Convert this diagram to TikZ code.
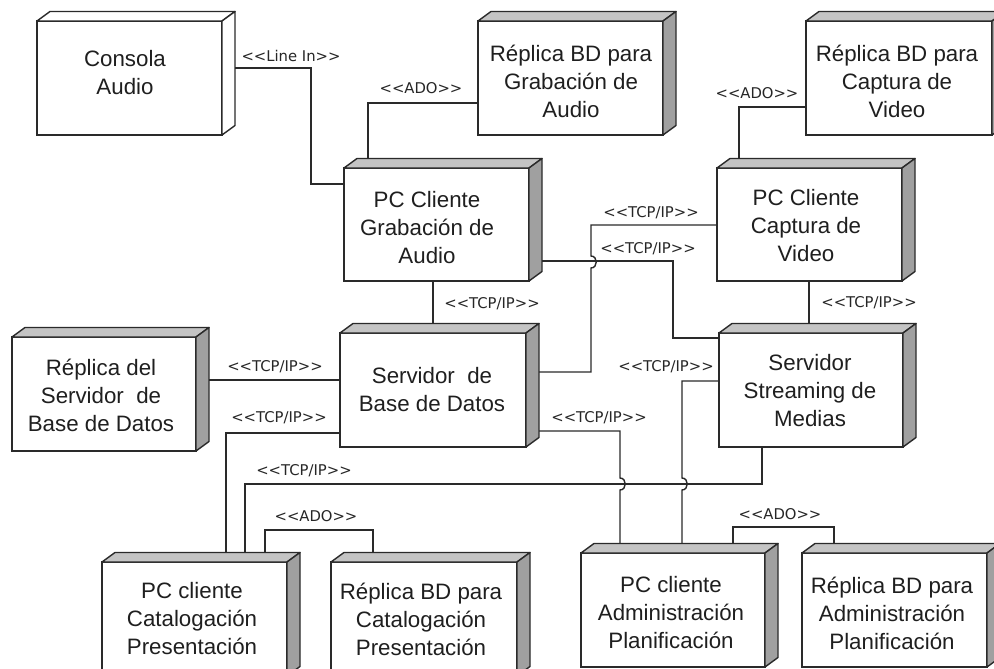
\documentclass[tikz,border=0pt]{standalone}
\usepackage{fontspec}
\setmainfont{Liberation Sans}
\newfontfamily\lblfont{DejaVu Sans}
\usetikzlibrary{calc}

\definecolor{topgray}{HTML}{C4C4C4}
\definecolor{sidegray}{HTML}{A0A0A0}
\definecolor{ink}{HTML}{2A2A2A}

% stereotype text such as <<TCP/IP>>
\newcommand{\stereo}[1]{<\kern0pt<#1>\kern0pt>}

\tikzset{
  front/.style={draw=ink, line width=1.4pt, fill=white, inner sep=0pt, outer sep=0pt},
  greytop/.style={draw=ink, line width=1.4pt, fill=topgray, line join=round},
  greyside/.style={draw=ink, line width=1.4pt, fill=sidegray, line join=round},
  plainface/.style={draw=ink, line width=1.4pt, fill=white, line join=round},
  devtext/.style={align=center, font=\fontsize{22.3}{28}\selectfont, text=black!88, inner sep=0pt},
  conn/.style={draw=ink, line width=1.4pt},
  stlabel/.style={font=\lblfont\fontsize{14.8}{16}\selectfont, text=black!85, inner sep=0pt},
}

% UML device node: name, x1, y1, x2, y2 (front face), top style, side style
\newcommand{\devbox}[7]{%
  \node[front, minimum width={#4-#2}, minimum height={#5-#3}] (#1) at ({(#2+#4)/2},{(#3+#5)/2}) {};
  \path[#6] (#1.north west) -- ++(13,-9.5) -- ($(#1.north east)+(13,-9.5)$) -- (#1.north east) -- cycle;
  \path[#7] (#1.north east) -- ++(13,-9.5) -- ($(#1.south east)+(13,-9.5)$) -- (#1.south east) -- cycle;
  \coordinate (#1-bk) at ($(#1.east)+(13,0)$);
  \coordinate (#1-tp) at ($(#1.north)+(0,-9.5)$);
}

\begin{document}
\begin{tikzpicture}[x=1pt,y=-1pt]
\useasboundingbox (0,0) rectangle (994,669);
\clip (0,0) rectangle (994,669);
\fill[white] (0,0) rectangle (994,669);

% devices
\devbox{consola}{37}{21}{222}{135}{plainface}{plainface}
\devbox{repgrab}{478}{21}{663}{135}{greytop}{greyside}
\devbox{repvid}{806}{21}{992}{135}{greytop}{greyside}
\devbox{pcgrab}{344}{168}{529}{281}{greytop}{greyside}
\devbox{pcvid}{717}{168}{902}{281}{greytop}{greyside}
\devbox{srvbd}{340}{333}{526}{447}{greytop}{greyside}
\devbox{repsrv}{12}{337}{196}{451}{greytop}{greyside}
\devbox{stream}{719}{333}{903}{447}{greytop}{greyside}
\devbox{pccat}{102}{562}{287}{676}{greytop}{greyside}
\devbox{repcat}{331}{562}{517}{676}{greytop}{greyside}
\devbox{pcadm}{581}{553}{765}{667}{greytop}{greyside}
\devbox{repadm}{802}{553}{987}{667}{greytop}{greyside}

% device captions
\node[devtext] (consola-t) at (125,73) {Consola\\Audio};
\node[devtext] (repgrab-t) at (571,81) {Réplica BD para\\Grabación de\\Audio};
\node[devtext] (repvid-t) at (897,81) {Réplica BD para\\Captura de\\Video};
\node[devtext] (pcgrab-t) at (427,228) {PC Cliente\\Grabación de\\Audio};
\node[devtext] (pcvid-t) at (806,226) {PC Cliente\\Captura de\\Video};
\node[devtext] (srvbd-t) at (432,390) {Servidor\ \ de\\Base de Datos};
\node[devtext] (repsrv-t) at (101,395) {Réplica del\\Servidor\ \ de\\Base de Datos};
\node[devtext] (stream-t) at (810,391) {Servidor\\Streaming de\\Medias};
\node[devtext] (pccat-t) at (192,619) {PC cliente\\Catalogación\\Presentación};
\node[devtext] (repcat-t) at (421,619) {Réplica BD para\\Catalogación\\Presentación};
\node[devtext] (pcadm-t) at (671,613) {PC cliente\\Administración\\Planificación};
\node[devtext] (repadm-t) at (892,613) {Réplica BD para\\Administración\\Planificación};

% connections
\draw[conn] (consola-bk |- 0,68) -| (311,184) -- (pcgrab.west |- 0,184);
\draw[conn] (repgrab.west |- 0,103) -| (pcgrab-tp -| 368,0);
\draw[conn] (repvid.west |- 0,107) -| (pcvid-tp -| 739,0);
\draw[conn] (pcgrab.south -| 433,0) -- (srvbd-tp -| 433,0);
\draw[conn] (repsrv-bk |- 0,380) -- (srvbd.west |- 0,380);
\draw[conn] (srvbd.west |- 0,433) -| (pccat-tp -| 226,0);
\draw[conn] (srvbd-bk |- 0,372) -- (591,372) -- (591,268)
  .. controls (598,268) and (598,256) .. (591,256) -- (591,225) -- (pcvid.west |- 0,225);
\draw[conn] (pcgrab-bk |- 0,261) -| (673,338) -- (stream.west |- 0,338);
\draw[conn] (pcvid.south -| 809,0) -- (stream-tp -| 809,0);
\draw[conn] (srvbd-bk |- 0,431) -- (620,431) -- (620,478)
  .. controls (627,478) and (627,490) .. (620,490) -- (pcadm-tp -| 620,0);
\draw[conn] (stream.west |- 0,381) -- (682,381) -- (682,478)
  .. controls (689,478) and (689,490) .. (682,490) -- (pcadm-tp -| 682,0);
\draw[conn] (stream.south -| 762,0) |- (245,484) -- (pccat-tp -| 245,0);
\draw[conn] (pccat-tp -| 265,0) |- (373,530) -- (repcat-tp -| 373,0);
\draw[conn] (pcadm-tp -| 733,0) |- (834,527) -- (repadm-tp -| 834,0);

% stereotypes
\node[stlabel] (s1) at (291,56) {\stereo{Line In}};
\node[stlabel] (s2) at (421,88) {\stereo{ADO}};
\node[stlabel] (s3) at (757,93) {\stereo{ADO}};
\node[stlabel] (s4) at (492,304) {\stereo{TCP/IP}};
\node[stlabel] (s5) at (275,367) {\stereo{TCP/IP}};
\node[stlabel] (s6) at (279,418) {\stereo{TCP/IP}};
\node[stlabel] (s7) at (651,213) {\stereo{TCP/IP}};
\node[stlabel] (s8) at (648,249) {\stereo{TCP/IP}};
\node[stlabel] (s9) at (869,303) {\stereo{TCP/IP}};
\node[stlabel] (s10) at (599,418) {\stereo{TCP/IP}};
\node[stlabel] (s11) at (666,367) {\stereo{TCP/IP}};
\node[stlabel] (s12) at (304,471) {\stereo{TCP/IP}};
\node[stlabel] (s13) at (316,516) {\stereo{ADO}};
\node[stlabel] (s14) at (780,514) {\stereo{ADO}};
\end{tikzpicture}
\end{document}
